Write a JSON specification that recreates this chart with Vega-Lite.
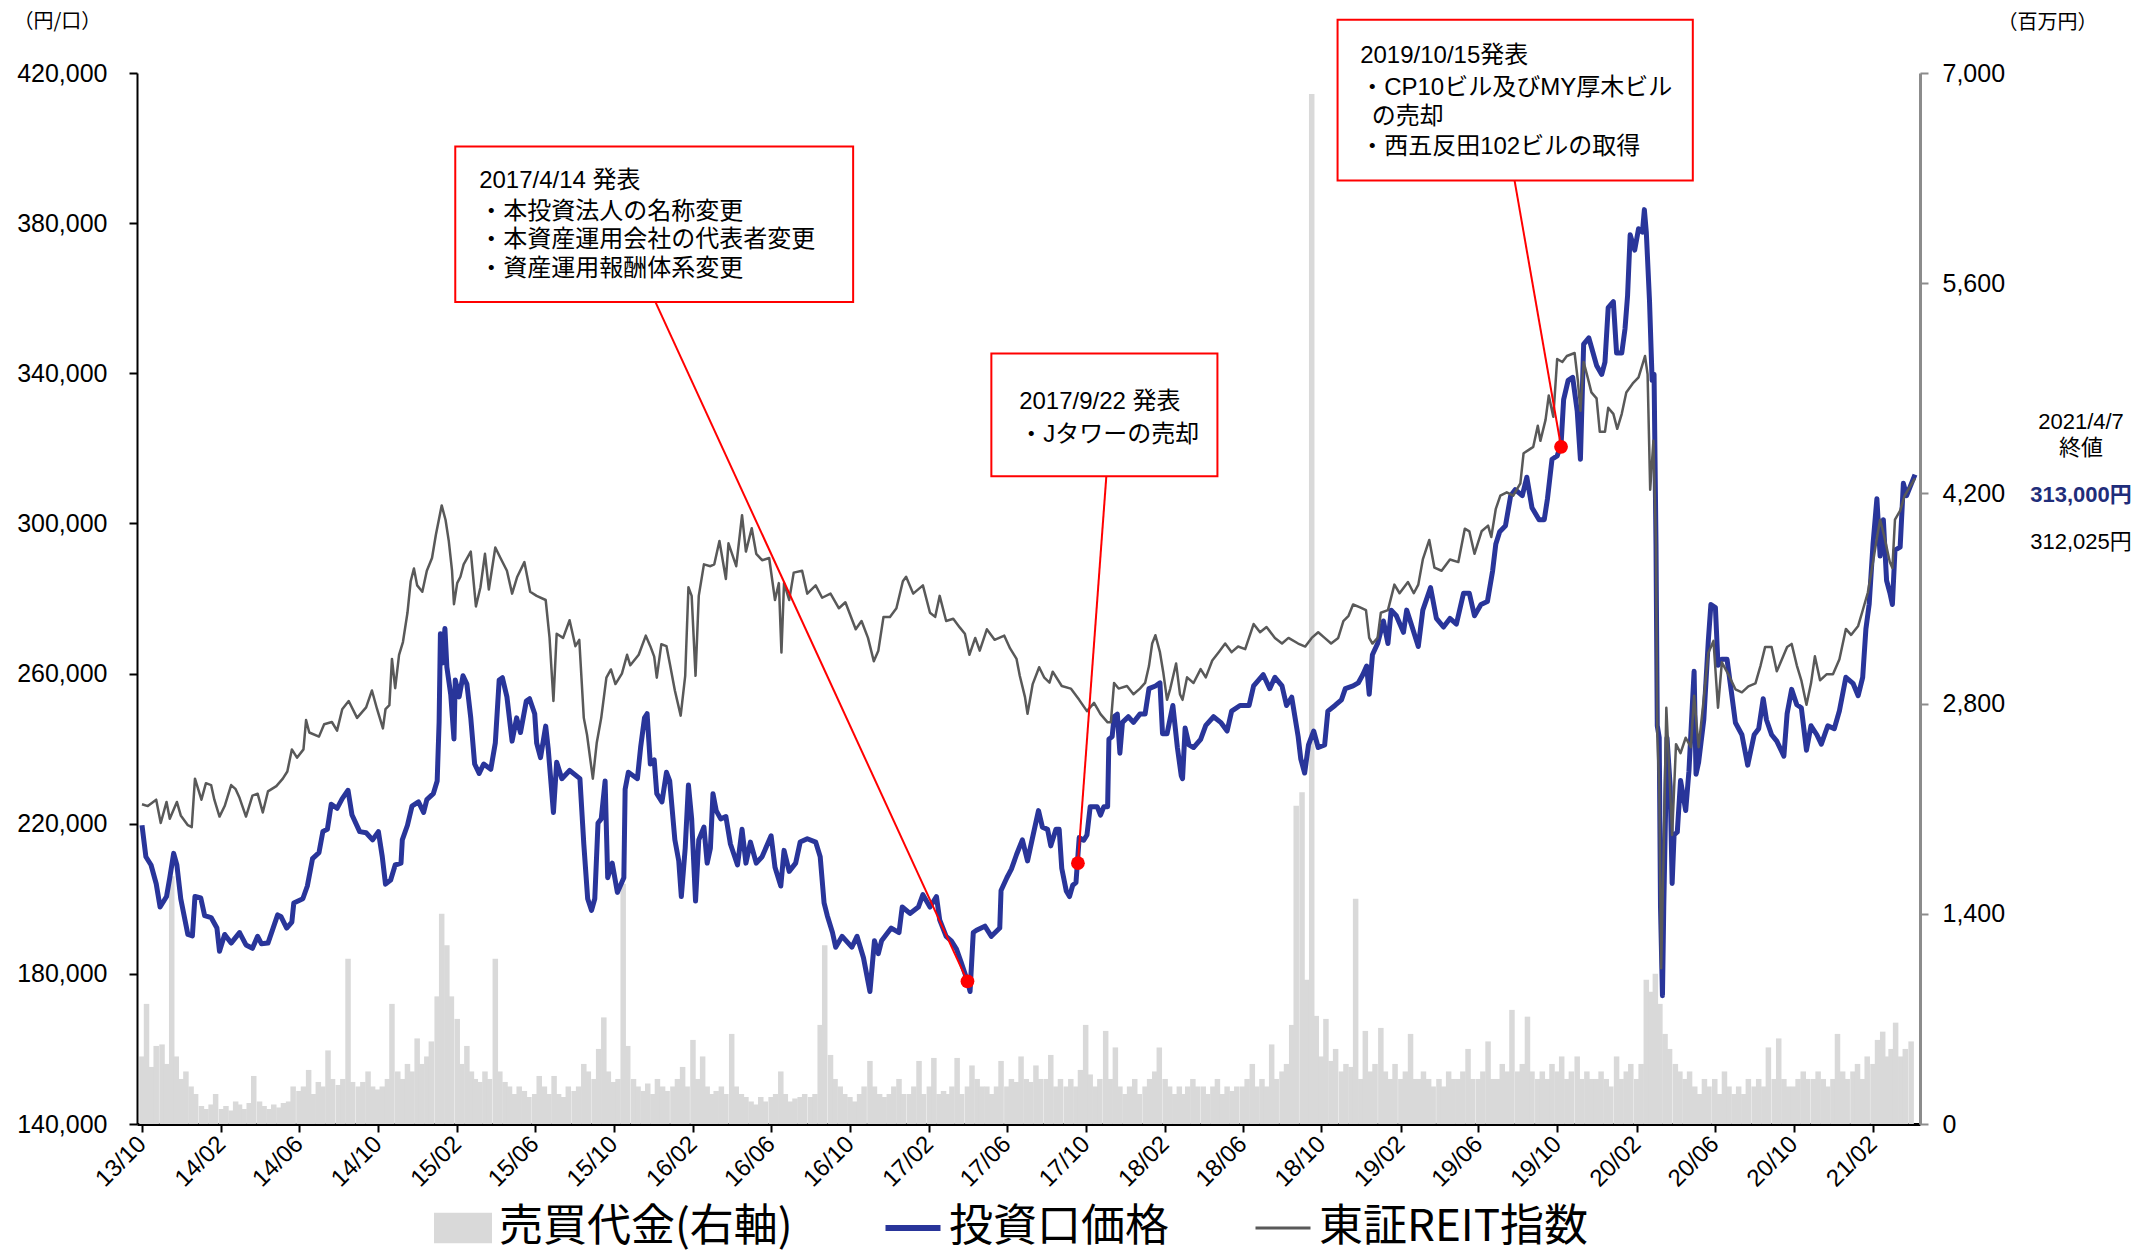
{
"$schema":"https://vega.github.io/schema/vega-lite/v6.json",
"width":1783,"height":1051,
"autosize":{"type":"none"},
"padding":{"left":137,"top":73,"right":227,"bottom":136},
"background":"white",
"config":{"view":{"stroke":null},"font":"Liberation Sans"},
"datasets":{
"trading_value":[
{"date":"2013-10-01","vol":450},{"date":"2013-10-08","vol":800},{"date":"2013-10-16","vol":380},{"date":"2013-10-23","vol":520},
{"date":"2013-11-01","vol":530},{"date":"2013-11-08","vol":400},{"date":"2013-11-16","vol":1650},{"date":"2013-11-23","vol":450},
{"date":"2013-12-01","vol":300},{"date":"2013-12-08","vol":350},{"date":"2013-12-16","vol":250},{"date":"2013-12-23","vol":200},
{"date":"2014-01-01","vol":120},{"date":"2014-01-08","vol":100},{"date":"2014-01-16","vol":130},{"date":"2014-01-23","vol":200},
{"date":"2014-02-01","vol":100},{"date":"2014-02-08","vol":120},{"date":"2014-02-16","vol":90},{"date":"2014-02-23","vol":150},
{"date":"2014-03-01","vol":130},{"date":"2014-03-08","vol":100},{"date":"2014-03-16","vol":140},{"date":"2014-03-23","vol":320},
{"date":"2014-04-01","vol":150},{"date":"2014-04-08","vol":120},{"date":"2014-04-16","vol":100},{"date":"2014-04-23","vol":130},
{"date":"2014-05-01","vol":110},{"date":"2014-05-08","vol":140},{"date":"2014-05-16","vol":150},{"date":"2014-05-23","vol":250},
{"date":"2014-06-01","vol":220},{"date":"2014-06-08","vol":250},{"date":"2014-06-16","vol":360},{"date":"2014-06-23","vol":200},
{"date":"2014-07-01","vol":280},{"date":"2014-07-08","vol":250},{"date":"2014-07-16","vol":490},{"date":"2014-07-23","vol":300},
{"date":"2014-08-01","vol":260},{"date":"2014-08-08","vol":300},{"date":"2014-08-16","vol":1100},{"date":"2014-08-23","vol":280},
{"date":"2014-09-01","vol":250},{"date":"2014-09-08","vol":280},{"date":"2014-09-16","vol":350},{"date":"2014-09-23","vol":250},
{"date":"2014-10-01","vol":230},{"date":"2014-10-08","vol":250},{"date":"2014-10-16","vol":300},{"date":"2014-10-23","vol":800},
{"date":"2014-11-01","vol":350},{"date":"2014-11-08","vol":300},{"date":"2014-11-16","vol":400},{"date":"2014-11-23","vol":350},
{"date":"2014-12-01","vol":570},{"date":"2014-12-08","vol":400},{"date":"2014-12-16","vol":450},{"date":"2014-12-23","vol":550},
{"date":"2015-01-01","vol":850},{"date":"2015-01-08","vol":1400},{"date":"2015-01-16","vol":1190},{"date":"2015-01-23","vol":850},
{"date":"2015-02-01","vol":700},{"date":"2015-02-08","vol":400},{"date":"2015-02-16","vol":520},{"date":"2015-02-23","vol":350},
{"date":"2015-03-01","vol":300},{"date":"2015-03-08","vol":280},{"date":"2015-03-16","vol":350},{"date":"2015-03-23","vol":300},
{"date":"2015-04-01","vol":1100},{"date":"2015-04-08","vol":350},{"date":"2015-04-16","vol":280},{"date":"2015-04-23","vol":250},
{"date":"2015-05-01","vol":200},{"date":"2015-05-08","vol":250},{"date":"2015-05-16","vol":220},{"date":"2015-05-23","vol":180},
{"date":"2015-06-01","vol":200},{"date":"2015-06-08","vol":320},{"date":"2015-06-16","vol":250},{"date":"2015-06-23","vol":200},
{"date":"2015-07-01","vol":320},{"date":"2015-07-08","vol":200},{"date":"2015-07-16","vol":180},{"date":"2015-07-23","vol":250},
{"date":"2015-08-01","vol":220},{"date":"2015-08-08","vol":250},{"date":"2015-08-16","vol":400},{"date":"2015-08-23","vol":350},
{"date":"2015-09-01","vol":300},{"date":"2015-09-08","vol":500},{"date":"2015-09-16","vol":710},{"date":"2015-09-23","vol":350},
{"date":"2015-10-01","vol":280},{"date":"2015-10-08","vol":300},{"date":"2015-10-16","vol":1600},{"date":"2015-10-23","vol":520},
{"date":"2015-11-01","vol":300},{"date":"2015-11-08","vol":250},{"date":"2015-11-16","vol":220},{"date":"2015-11-23","vol":270},
{"date":"2015-12-01","vol":200},{"date":"2015-12-08","vol":300},{"date":"2015-12-16","vol":250},{"date":"2015-12-23","vol":220},
{"date":"2016-01-01","vol":250},{"date":"2016-01-08","vol":300},{"date":"2016-01-16","vol":380},{"date":"2016-01-23","vol":250},
{"date":"2016-02-01","vol":560},{"date":"2016-02-08","vol":300},{"date":"2016-02-16","vol":450},{"date":"2016-02-23","vol":250},
{"date":"2016-03-01","vol":200},{"date":"2016-03-08","vol":220},{"date":"2016-03-16","vol":250},{"date":"2016-03-23","vol":200},
{"date":"2016-04-01","vol":600},{"date":"2016-04-08","vol":250},{"date":"2016-04-16","vol":200},{"date":"2016-04-23","vol":180},
{"date":"2016-05-01","vol":150},{"date":"2016-05-08","vol":130},{"date":"2016-05-16","vol":180},{"date":"2016-05-23","vol":150},
{"date":"2016-06-01","vol":180},{"date":"2016-06-08","vol":200},{"date":"2016-06-16","vol":350},{"date":"2016-06-23","vol":200},
{"date":"2016-07-01","vol":150},{"date":"2016-07-08","vol":170},{"date":"2016-07-16","vol":180},{"date":"2016-07-23","vol":200},
{"date":"2016-08-01","vol":180},{"date":"2016-08-08","vol":200},{"date":"2016-08-16","vol":660},{"date":"2016-08-23","vol":1190},
{"date":"2016-09-01","vol":460},{"date":"2016-09-08","vol":300},{"date":"2016-09-16","vol":250},{"date":"2016-09-23","vol":200},
{"date":"2016-10-01","vol":180},{"date":"2016-10-08","vol":150},{"date":"2016-10-16","vol":200},{"date":"2016-10-23","vol":250},
{"date":"2016-11-01","vol":420},{"date":"2016-11-08","vol":250},{"date":"2016-11-16","vol":200},{"date":"2016-11-23","vol":180},
{"date":"2016-12-01","vol":200},{"date":"2016-12-08","vol":250},{"date":"2016-12-16","vol":300},{"date":"2016-12-23","vol":200},
{"date":"2017-01-01","vol":200},{"date":"2017-01-08","vol":250},{"date":"2017-01-16","vol":420},{"date":"2017-01-23","vol":200},
{"date":"2017-02-01","vol":250},{"date":"2017-02-08","vol":440},{"date":"2017-02-16","vol":200},{"date":"2017-02-23","vol":220},
{"date":"2017-03-01","vol":200},{"date":"2017-03-08","vol":250},{"date":"2017-03-16","vol":440},{"date":"2017-03-23","vol":200},
{"date":"2017-04-01","vol":250},{"date":"2017-04-08","vol":390},{"date":"2017-04-16","vol":300},{"date":"2017-04-23","vol":250},
{"date":"2017-05-01","vol":250},{"date":"2017-05-08","vol":200},{"date":"2017-05-16","vol":250},{"date":"2017-05-23","vol":420},
{"date":"2017-06-01","vol":250},{"date":"2017-06-08","vol":300},{"date":"2017-06-16","vol":280},{"date":"2017-06-23","vol":450},
{"date":"2017-07-01","vol":300},{"date":"2017-07-08","vol":280},{"date":"2017-07-16","vol":390},{"date":"2017-07-23","vol":300},
{"date":"2017-08-01","vol":300},{"date":"2017-08-08","vol":460},{"date":"2017-08-16","vol":250},{"date":"2017-08-23","vol":300},
{"date":"2017-09-01","vol":250},{"date":"2017-09-08","vol":300},{"date":"2017-09-16","vol":250},{"date":"2017-09-23","vol":360},
{"date":"2017-10-01","vol":660},{"date":"2017-10-08","vol":330},{"date":"2017-10-16","vol":250},{"date":"2017-10-23","vol":300},
{"date":"2017-11-01","vol":620},{"date":"2017-11-08","vol":300},{"date":"2017-11-16","vol":510},{"date":"2017-11-23","vol":250},
{"date":"2017-12-01","vol":200},{"date":"2017-12-08","vol":250},{"date":"2017-12-16","vol":300},{"date":"2017-12-23","vol":200},
{"date":"2018-01-01","vol":250},{"date":"2018-01-08","vol":300},{"date":"2018-01-16","vol":350},{"date":"2018-01-23","vol":510},
{"date":"2018-02-01","vol":300},{"date":"2018-02-08","vol":250},{"date":"2018-02-16","vol":200},{"date":"2018-02-23","vol":250},
{"date":"2018-03-01","vol":200},{"date":"2018-03-08","vol":250},{"date":"2018-03-16","vol":300},{"date":"2018-03-23","vol":250},
{"date":"2018-04-01","vol":250},{"date":"2018-04-08","vol":200},{"date":"2018-04-16","vol":250},{"date":"2018-04-23","vol":300},
{"date":"2018-05-01","vol":200},{"date":"2018-05-08","vol":250},{"date":"2018-05-16","vol":220},{"date":"2018-05-23","vol":250},
{"date":"2018-06-01","vol":250},{"date":"2018-06-08","vol":300},{"date":"2018-06-16","vol":400},{"date":"2018-06-23","vol":250},
{"date":"2018-07-01","vol":300},{"date":"2018-07-08","vol":250},{"date":"2018-07-16","vol":530},{"date":"2018-07-23","vol":300},
{"date":"2018-08-01","vol":350},{"date":"2018-08-08","vol":400},{"date":"2018-08-16","vol":660},{"date":"2018-08-23","vol":2120},
{"date":"2018-09-01","vol":2210},{"date":"2018-09-08","vol":960},{"date":"2018-09-16","vol":6860},{"date":"2018-09-23","vol":720},
{"date":"2018-10-01","vol":450},{"date":"2018-10-08","vol":700},{"date":"2018-10-16","vol":420},{"date":"2018-10-23","vol":500},
{"date":"2018-11-01","vol":350},{"date":"2018-11-08","vol":400},{"date":"2018-11-16","vol":380},{"date":"2018-11-23","vol":1500},
{"date":"2018-12-01","vol":300},{"date":"2018-12-08","vol":620},{"date":"2018-12-16","vol":350},{"date":"2018-12-23","vol":400},
{"date":"2019-01-01","vol":640},{"date":"2019-01-08","vol":350},{"date":"2019-01-16","vol":300},{"date":"2019-01-23","vol":400},
{"date":"2019-02-01","vol":300},{"date":"2019-02-08","vol":350},{"date":"2019-02-16","vol":600},{"date":"2019-02-23","vol":300},
{"date":"2019-03-01","vol":300},{"date":"2019-03-08","vol":350},{"date":"2019-03-16","vol":300},{"date":"2019-03-23","vol":250},
{"date":"2019-04-01","vol":300},{"date":"2019-04-08","vol":250},{"date":"2019-04-16","vol":350},{"date":"2019-04-23","vol":300},
{"date":"2019-05-01","vol":300},{"date":"2019-05-08","vol":350},{"date":"2019-05-16","vol":500},{"date":"2019-05-23","vol":300},
{"date":"2019-06-01","vol":300},{"date":"2019-06-08","vol":350},{"date":"2019-06-16","vol":550},{"date":"2019-06-23","vol":300},
{"date":"2019-07-01","vol":300},{"date":"2019-07-08","vol":400},{"date":"2019-07-16","vol":350},{"date":"2019-07-23","vol":760},
{"date":"2019-08-01","vol":350},{"date":"2019-08-08","vol":400},{"date":"2019-08-16","vol":715},{"date":"2019-08-23","vol":350},
{"date":"2019-09-01","vol":300},{"date":"2019-09-08","vol":350},{"date":"2019-09-16","vol":300},{"date":"2019-09-23","vol":400},
{"date":"2019-10-01","vol":350},{"date":"2019-10-08","vol":450},{"date":"2019-10-16","vol":300},{"date":"2019-10-23","vol":350},
{"date":"2019-11-01","vol":450},{"date":"2019-11-08","vol":300},{"date":"2019-11-16","vol":350},{"date":"2019-11-23","vol":300},
{"date":"2019-12-01","vol":300},{"date":"2019-12-08","vol":350},{"date":"2019-12-16","vol":300},{"date":"2019-12-23","vol":250},
{"date":"2020-01-01","vol":450},{"date":"2020-01-08","vol":300},{"date":"2020-01-16","vol":350},{"date":"2020-01-23","vol":400},
{"date":"2020-02-01","vol":300},{"date":"2020-02-08","vol":400},{"date":"2020-02-16","vol":960},{"date":"2020-02-23","vol":880},
{"date":"2020-03-01","vol":1000},{"date":"2020-03-08","vol":800},{"date":"2020-03-16","vol":600},{"date":"2020-03-23","vol":500},
{"date":"2020-04-01","vol":400},{"date":"2020-04-08","vol":350},{"date":"2020-04-16","vol":300},{"date":"2020-04-23","vol":350},
{"date":"2020-05-01","vol":250},{"date":"2020-05-08","vol":200},{"date":"2020-05-16","vol":300},{"date":"2020-05-23","vol":250},
{"date":"2020-06-01","vol":300},{"date":"2020-06-08","vol":200},{"date":"2020-06-16","vol":350},{"date":"2020-06-23","vol":250},
{"date":"2020-07-01","vol":200},{"date":"2020-07-08","vol":250},{"date":"2020-07-16","vol":200},{"date":"2020-07-23","vol":300},
{"date":"2020-08-01","vol":250},{"date":"2020-08-08","vol":300},{"date":"2020-08-16","vol":250},{"date":"2020-08-23","vol":510},
{"date":"2020-09-01","vol":300},{"date":"2020-09-08","vol":570},{"date":"2020-09-16","vol":300},{"date":"2020-09-23","vol":250},
{"date":"2020-10-01","vol":250},{"date":"2020-10-08","vol":300},{"date":"2020-10-16","vol":350},{"date":"2020-10-23","vol":300},
{"date":"2020-11-01","vol":300},{"date":"2020-11-08","vol":350},{"date":"2020-11-16","vol":300},{"date":"2020-11-23","vol":250},
{"date":"2020-12-01","vol":300},{"date":"2020-12-08","vol":600},{"date":"2020-12-16","vol":350},{"date":"2020-12-23","vol":300},
{"date":"2021-01-01","vol":350},{"date":"2021-01-08","vol":400},{"date":"2021-01-16","vol":300},{"date":"2021-01-23","vol":450},
{"date":"2021-02-01","vol":400},{"date":"2021-02-08","vol":560},{"date":"2021-02-16","vol":615},{"date":"2021-02-23","vol":450},
{"date":"2021-03-01","vol":500},{"date":"2021-03-08","vol":675},{"date":"2021-03-16","vol":450},{"date":"2021-03-23","vol":500},
{"date":"2021-04-01","vol":550}
],
"unit_price":[
{"date":"2013-10-01","price":219600},{"date":"2013-10-07","price":211200},{"date":"2013-10-15","price":209000},{"date":"2013-10-23","price":204000},{"date":"2013-10-29","price":197800},
{"date":"2013-11-08","price":200600},{"date":"2013-11-13","price":205600},{"date":"2013-11-19","price":212100},{"date":"2013-11-24","price":209000},{"date":"2013-11-30","price":200000},
{"date":"2013-12-11","price":190500},{"date":"2013-12-18","price":190100},{"date":"2013-12-22","price":200600},{"date":"2013-12-31","price":200200},
{"date":"2014-01-06","price":195500},{"date":"2014-01-16","price":195000},{"date":"2014-01-25","price":192200},{"date":"2014-01-29","price":186000},
{"date":"2014-02-06","price":190500},{"date":"2014-02-16","price":188200},{"date":"2014-03-01","price":191000},{"date":"2014-03-11","price":187700},{"date":"2014-03-21","price":186800},{"date":"2014-03-29","price":190000},
{"date":"2014-04-04","price":188000},{"date":"2014-04-14","price":188200},{"date":"2014-04-22","price":192200},{"date":"2014-04-29","price":195700},
{"date":"2014-05-04","price":195300},{"date":"2014-05-13","price":192200},{"date":"2014-05-21","price":193800},{"date":"2014-05-24","price":198900},
{"date":"2014-06-07","price":200000},{"date":"2014-06-14","price":203400},{"date":"2014-06-22","price":210700},
{"date":"2014-07-02","price":212300},{"date":"2014-07-08","price":217900},{"date":"2014-07-15","price":218500},{"date":"2014-07-21","price":225200},{"date":"2014-07-30","price":224100},
{"date":"2014-08-07","price":226700},{"date":"2014-08-16","price":228900},{"date":"2014-08-22","price":222400},
{"date":"2014-09-03","price":217900},{"date":"2014-09-13","price":217600},{"date":"2014-09-23","price":215700},
{"date":"2014-10-02","price":217900},{"date":"2014-10-08","price":211200},{"date":"2014-10-13","price":203900},{"date":"2014-10-21","price":205000},{"date":"2014-10-28","price":209000},
{"date":"2014-11-06","price":209500},{"date":"2014-11-08","price":215700},{"date":"2014-11-16","price":219600},{"date":"2014-11-23","price":224700},
{"date":"2014-12-03","price":225800},{"date":"2014-12-11","price":223000},{"date":"2014-12-16","price":226400},{"date":"2014-12-26","price":228000},
{"date":"2015-01-01","price":231400},{"date":"2015-01-04","price":247100},{"date":"2015-01-06","price":270600},{"date":"2015-01-09","price":262800},{"date":"2015-01-13","price":272000},{"date":"2015-01-16","price":261700},{"date":"2015-01-22","price":254400},{"date":"2015-01-27","price":242600},{"date":"2015-01-29","price":258300},
{"date":"2015-02-04","price":253800},{"date":"2015-02-10","price":259400},{"date":"2015-02-16","price":257200},{"date":"2015-02-22","price":248200},{"date":"2015-02-28","price":235900},
{"date":"2015-03-07","price":233400},{"date":"2015-03-14","price":235900},{"date":"2015-03-25","price":234500},
{"date":"2015-04-01","price":241500},{"date":"2015-04-07","price":258300},{"date":"2015-04-12","price":258900},{"date":"2015-04-19","price":253800},{"date":"2015-04-27","price":242000},
{"date":"2015-05-04","price":248200},{"date":"2015-05-10","price":244300},{"date":"2015-05-19","price":252700},{"date":"2015-05-24","price":253300},
{"date":"2015-06-01","price":249300},{"date":"2015-06-04","price":241500},{"date":"2015-06-10","price":237600},{"date":"2015-06-18","price":246000},{"date":"2015-06-22","price":239800},{"date":"2015-06-30","price":223000},
{"date":"2015-07-05","price":236400},{"date":"2015-07-13","price":232000},{"date":"2015-07-25","price":234200},
{"date":"2015-08-10","price":232000},{"date":"2015-08-16","price":214600},{"date":"2015-08-22","price":200000},{"date":"2015-08-28","price":196900},
{"date":"2015-09-02","price":200000},{"date":"2015-09-07","price":220200},{"date":"2015-09-12","price":221300},{"date":"2015-09-18","price":231400},{"date":"2015-09-22","price":205600},{"date":"2015-09-29","price":209500},
{"date":"2015-10-07","price":201700},{"date":"2015-10-17","price":205600},{"date":"2015-10-19","price":229200},{"date":"2015-10-24","price":233700},
{"date":"2015-11-07","price":232000},{"date":"2015-11-12","price":240400},{"date":"2015-11-18","price":248200},{"date":"2015-11-22","price":249300},{"date":"2015-11-27","price":235900},
{"date":"2015-12-03","price":237000},{"date":"2015-12-07","price":228000},{"date":"2015-12-15","price":225800},{"date":"2015-12-22","price":233700},{"date":"2015-12-27","price":231400},
{"date":"2016-01-04","price":215700},{"date":"2016-01-10","price":210100},{"date":"2016-01-14","price":200600},{"date":"2016-01-20","price":213500},{"date":"2016-01-25","price":230300},{"date":"2016-01-30","price":221300},
{"date":"2016-02-05","price":199400},{"date":"2016-02-10","price":215700},{"date":"2016-02-18","price":219100},{"date":"2016-02-23","price":209500},{"date":"2016-02-28","price":213500},
{"date":"2016-03-03","price":228000},{"date":"2016-03-08","price":223500},{"date":"2016-03-15","price":221300},{"date":"2016-03-23","price":221900},{"date":"2016-03-30","price":214600},
{"date":"2016-04-10","price":209000},{"date":"2016-04-17","price":218500},{"date":"2016-04-23","price":209500},{"date":"2016-04-30","price":215100},
{"date":"2016-05-09","price":209500},{"date":"2016-05-18","price":211200},
{"date":"2016-06-01","price":216800},{"date":"2016-06-07","price":208400},{"date":"2016-06-16","price":203400},{"date":"2016-06-21","price":212900},{"date":"2016-06-29","price":207300},
{"date":"2016-07-09","price":209500},{"date":"2016-07-16","price":215100},{"date":"2016-07-27","price":216000},
{"date":"2016-08-09","price":215100},{"date":"2016-08-16","price":211200},{"date":"2016-08-22","price":198900},{"date":"2016-08-27","price":195500},
{"date":"2016-09-04","price":191000},{"date":"2016-09-09","price":187100},{"date":"2016-09-19","price":190000},
{"date":"2016-10-04","price":187100},{"date":"2016-10-12","price":190000},{"date":"2016-10-22","price":184300},
{"date":"2016-11-01","price":175300},{"date":"2016-11-08","price":188800},{"date":"2016-11-14","price":185400},{"date":"2016-11-19","price":188800},
{"date":"2016-12-04","price":192200},{"date":"2016-12-16","price":191000},{"date":"2016-12-21","price":197800},
{"date":"2017-01-02","price":196100},{"date":"2017-01-15","price":197800},{"date":"2017-01-22","price":201100},
{"date":"2017-02-02","price":197800},{"date":"2017-02-12","price":200600},{"date":"2017-02-17","price":194400},{"date":"2017-02-27","price":190000},
{"date":"2017-03-07","price":188800},{"date":"2017-03-15","price":186600},{"date":"2017-03-22","price":183200},
{"date":"2017-04-01","price":178100},{"date":"2017-04-05","price":175300},{"date":"2017-04-10","price":191000},{"date":"2017-04-15","price":191600},{"date":"2017-04-28","price":192700},
{"date":"2017-05-08","price":190000},{"date":"2017-05-21","price":192200},{"date":"2017-05-23","price":202200},
{"date":"2017-06-01","price":205600},{"date":"2017-06-08","price":207900},{"date":"2017-06-16","price":211800},{"date":"2017-06-25","price":215700},
{"date":"2017-07-03","price":210100},{"date":"2017-07-10","price":215700},{"date":"2017-07-20","price":223500},{"date":"2017-07-26","price":219100},
{"date":"2017-08-03","price":218500},{"date":"2017-08-08","price":214100},{"date":"2017-08-16","price":218500},{"date":"2017-08-21","price":218500},{"date":"2017-08-25","price":208100},
{"date":"2017-09-01","price":202100},{"date":"2017-09-06","price":200600},{"date":"2017-09-11","price":203600},{"date":"2017-09-16","price":204300},{"date":"2017-09-21","price":216300},{"date":"2017-09-28","price":215600},
{"date":"2017-10-03","price":217000},{"date":"2017-10-08","price":224500},{"date":"2017-10-19","price":224500},{"date":"2017-10-24","price":222300},{"date":"2017-10-29","price":224500},
{"date":"2017-11-04","price":224500},{"date":"2017-11-06","price":242500},{"date":"2017-11-11","price":243200},{"date":"2017-11-14","price":248500},{"date":"2017-11-19","price":249200},{"date":"2017-11-23","price":238800},{"date":"2017-11-27","price":247000},
{"date":"2017-12-06","price":248500},{"date":"2017-12-14","price":247000},{"date":"2017-12-24","price":249200},
{"date":"2018-01-01","price":249200},{"date":"2018-01-07","price":256000},{"date":"2018-01-17","price":256700},{"date":"2018-01-24","price":257500},{"date":"2018-01-28","price":244000},
{"date":"2018-02-04","price":244000},{"date":"2018-02-13","price":251500},{"date":"2018-02-20","price":240300},{"date":"2018-02-26","price":232800},{"date":"2018-02-28","price":232000},
{"date":"2018-03-04","price":245500},{"date":"2018-03-10","price":241000},{"date":"2018-03-17","price":240300},{"date":"2018-03-28","price":242500},
{"date":"2018-04-05","price":246200},{"date":"2018-04-17","price":248500},{"date":"2018-04-28","price":247000},
{"date":"2018-05-08","price":244700},{"date":"2018-05-15","price":250000},{"date":"2018-05-28","price":251500},
{"date":"2018-06-11","price":251500},{"date":"2018-06-18","price":256700},
{"date":"2018-07-03","price":259700},{"date":"2018-07-13","price":256000},{"date":"2018-07-21","price":259000},
{"date":"2018-08-01","price":256700},{"date":"2018-08-08","price":251500},{"date":"2018-08-16","price":253700},{"date":"2018-08-26","price":243200},{"date":"2018-08-30","price":237300},
{"date":"2018-09-05","price":233500},{"date":"2018-09-11","price":241000},{"date":"2018-09-19","price":244700},{"date":"2018-09-26","price":240300},
{"date":"2018-10-06","price":241000},{"date":"2018-10-11","price":250000},{"date":"2018-10-22","price":251500},
{"date":"2018-11-01","price":253000},{"date":"2018-11-07","price":256000},{"date":"2018-11-19","price":256700},{"date":"2018-11-27","price":257500},
{"date":"2018-12-04","price":259700},{"date":"2018-12-10","price":262000},{"date":"2018-12-14","price":254500},{"date":"2018-12-19","price":265000},{"date":"2018-12-27","price":268000},
{"date":"2019-01-05","price":274000},{"date":"2019-01-12","price":268000},{"date":"2019-01-17","price":276900},{"date":"2019-01-25","price":275400},
{"date":"2019-02-05","price":271000},{"date":"2019-02-10","price":276900},{"date":"2019-02-17","price":273200},{"date":"2019-02-28","price":267200},
{"date":"2019-03-07","price":276900},{"date":"2019-03-19","price":282900},{"date":"2019-03-28","price":274700},
{"date":"2019-04-08","price":272400},{"date":"2019-04-18","price":274700},{"date":"2019-04-28","price":273200},
{"date":"2019-05-09","price":281400},{"date":"2019-05-18","price":281400},{"date":"2019-05-26","price":275400},
{"date":"2019-06-05","price":278400},{"date":"2019-06-15","price":279200},{"date":"2019-06-23","price":287300},{"date":"2019-06-28","price":294500},
{"date":"2019-07-04","price":297800},{"date":"2019-07-13","price":299400},{"date":"2019-07-21","price":307400},{"date":"2019-07-28","price":309000},
{"date":"2019-08-08","price":307400},{"date":"2019-08-15","price":312300},{"date":"2019-08-23","price":304200},
{"date":"2019-09-03","price":301000},{"date":"2019-09-11","price":301000},{"date":"2019-09-16","price":306600},{"date":"2019-09-23","price":317100},
{"date":"2019-10-01","price":318000},{"date":"2019-10-07","price":321000},{"date":"2019-10-11","price":333000},{"date":"2019-10-18","price":338100},{"date":"2019-10-25","price":338900},
{"date":"2019-11-01","price":330000},{"date":"2019-11-06","price":317100},{"date":"2019-11-11","price":347800},{"date":"2019-11-19","price":349400},{"date":"2019-11-23","price":347000},
{"date":"2019-12-01","price":342100},{"date":"2019-12-09","price":339700},{"date":"2019-12-14","price":343000},{"date":"2019-12-19","price":357500},{"date":"2019-12-27","price":359100},
{"date":"2020-01-01","price":345400},{"date":"2020-01-09","price":345400},{"date":"2020-01-14","price":351800},{"date":"2020-01-18","price":360700},{"date":"2020-01-22","price":376900},{"date":"2020-01-29","price":372800},
{"date":"2020-02-04","price":378500},{"date":"2020-02-10","price":377600},{"date":"2020-02-13","price":383600},{"date":"2020-02-16","price":377600},{"date":"2020-02-21","price":359100},{"date":"2020-02-25","price":338100},{"date":"2020-02-28","price":339700},
{"date":"2020-03-02","price":294500},{"date":"2020-03-04","price":246100},{"date":"2020-03-07","price":242900},{"date":"2020-03-09","price":197700},{"date":"2020-03-12","price":174200},{"date":"2020-03-14","price":197700},{"date":"2020-03-19","price":242900},{"date":"2020-03-24","price":229900},{"date":"2020-03-27","price":204100},{"date":"2020-03-30","price":217000},
{"date":"2020-04-04","price":217800},{"date":"2020-04-09","price":231500},{"date":"2020-04-17","price":223500},{"date":"2020-04-22","price":234000},{"date":"2020-04-30","price":260600},
{"date":"2020-05-03","price":233200},{"date":"2020-05-07","price":236400},{"date":"2020-05-15","price":247700},{"date":"2020-05-22","price":268700},{"date":"2020-05-26","price":278400},
{"date":"2020-06-02","price":277600},{"date":"2020-06-06","price":262200},{"date":"2020-06-12","price":263800},{"date":"2020-06-20","price":263800},{"date":"2020-06-25","price":257400},
{"date":"2020-07-03","price":246900},{"date":"2020-07-13","price":243700},{"date":"2020-07-22","price":235600},
{"date":"2020-08-01","price":243700},{"date":"2020-08-08","price":245300},{"date":"2020-08-15","price":253300},{"date":"2020-08-20","price":247700},{"date":"2020-08-28","price":243700},
{"date":"2020-09-05","price":242000},{"date":"2020-09-16","price":238000},{"date":"2020-09-21","price":249300},{"date":"2020-09-28","price":255800},
{"date":"2020-10-06","price":251700},{"date":"2020-10-13","price":250900},{"date":"2020-10-21","price":239600},{"date":"2020-10-28","price":246100},
{"date":"2020-11-06","price":243700},{"date":"2020-11-13","price":241200},{"date":"2020-11-23","price":246100},
{"date":"2020-12-03","price":245300},{"date":"2020-12-11","price":250100},{"date":"2020-12-21","price":259000},
{"date":"2021-01-01","price":257400},{"date":"2021-01-09","price":254100},{"date":"2021-01-16","price":259000},{"date":"2021-01-21","price":271900},{"date":"2021-01-26","price":278400},
{"date":"2021-02-01","price":294500},{"date":"2021-02-07","price":306600},{"date":"2021-02-12","price":291300},{"date":"2021-02-17","price":301000},{"date":"2021-02-22","price":284800},{"date":"2021-02-27","price":281600},
{"date":"2021-03-03","price":278400},{"date":"2021-03-07","price":292900},{"date":"2021-03-15","price":293700},{"date":"2021-03-20","price":310700},{"date":"2021-03-25","price":307400},{"date":"2021-04-07","price":313000}
],
"reit_index":[
{"date":"2013-10-01","reit":225200},{"date":"2013-10-10","reit":224700},{"date":"2013-10-23","reit":226400},{"date":"2013-10-30","reit":220200},
{"date":"2013-11-08","reit":225800},{"date":"2013-11-13","reit":221300},{"date":"2013-11-24","reit":225800},{"date":"2013-11-30","reit":222200},
{"date":"2013-12-11","reit":219600},{"date":"2013-12-17","reit":219100},{"date":"2013-12-22","reit":232000},
{"date":"2014-01-01","reit":226400},{"date":"2014-01-08","reit":230800},{"date":"2014-01-16","reit":230300},{"date":"2014-01-21","reit":226400},{"date":"2014-01-29","reit":221900},
{"date":"2014-02-06","reit":224700},{"date":"2014-02-16","reit":230300},{"date":"2014-02-23","reit":229200},
{"date":"2014-03-01","reit":226900},{"date":"2014-03-11","reit":221900},{"date":"2014-03-21","reit":227500},{"date":"2014-03-29","reit":228000},
{"date":"2014-04-06","reit":223000},{"date":"2014-04-14","reit":228600},{"date":"2014-04-27","reit":230000},
{"date":"2014-05-07","reit":232000},{"date":"2014-05-14","reit":233900},{"date":"2014-05-21","reit":239800},{"date":"2014-05-29","reit":237600},
{"date":"2014-06-08","reit":239800},{"date":"2014-06-12","reit":247600},{"date":"2014-06-17","reit":244300},
{"date":"2014-07-02","reit":243200},{"date":"2014-07-10","reit":246500},{"date":"2014-07-22","reit":247100},{"date":"2014-07-30","reit":244800},
{"date":"2014-08-07","reit":250500},{"date":"2014-08-17","reit":252700},{"date":"2014-08-30","reit":248200},
{"date":"2014-09-13","reit":251000},{"date":"2014-09-22","reit":255500},{"date":"2014-09-30","reit":250500},
{"date":"2014-10-09","reit":245400},{"date":"2014-10-13","reit":250500},{"date":"2014-10-19","reit":251600},{"date":"2014-10-23","reit":263900},{"date":"2014-10-28","reit":256100},
{"date":"2014-11-03","reit":265000},{"date":"2014-11-09","reit":268400},{"date":"2014-11-16","reit":276200},{"date":"2014-11-21","reit":284600},{"date":"2014-11-26","reit":288000},
{"date":"2014-12-01","reit":283500},{"date":"2014-12-09","reit":281800},{"date":"2014-12-16","reit":287400},{"date":"2014-12-24","reit":290800},{"date":"2014-12-30","reit":297000},
{"date":"2015-01-08","reit":304800},{"date":"2015-01-14","reit":300900},{"date":"2015-01-19","reit":295300},{"date":"2015-01-24","reit":287400},{"date":"2015-01-27","reit":278500},
{"date":"2015-02-01","reit":284100},{"date":"2015-02-06","reit":285800},{"date":"2015-02-11","reit":289100},{"date":"2015-02-22","reit":292500},{"date":"2015-02-26","reit":285200},
{"date":"2015-03-02","reit":277900},{"date":"2015-03-09","reit":283000},{"date":"2015-03-16","reit":291900},{"date":"2015-03-22","reit":282400},
{"date":"2015-04-01","reit":293600},{"date":"2015-04-09","reit":290800},{"date":"2015-04-19","reit":287400},{"date":"2015-04-27","reit":281300},
{"date":"2015-05-05","reit":285800},{"date":"2015-05-16","reit":289700},{"date":"2015-05-25","reit":281800},
{"date":"2015-06-04","reit":280700},{"date":"2015-06-18","reit":279600},{"date":"2015-06-24","reit":269500},{"date":"2015-06-30","reit":252700},
{"date":"2015-07-05","reit":270600},{"date":"2015-07-15","reit":269500},{"date":"2015-07-25","reit":274200},
{"date":"2015-08-03","reit":267300},{"date":"2015-08-09","reit":269000},{"date":"2015-08-16","reit":248200},{"date":"2015-08-21","reit":243700},{"date":"2015-08-30","reit":232000},
{"date":"2015-09-05","reit":241500},{"date":"2015-09-12","reit":248200},{"date":"2015-09-20","reit":258900},{"date":"2015-09-27","reit":261100},
{"date":"2015-10-04","reit":257200},{"date":"2015-10-14","reit":260000},{"date":"2015-10-22","reit":265000},{"date":"2015-10-27","reit":262200},
{"date":"2015-11-09","reit":265000},{"date":"2015-11-20","reit":270100},{"date":"2015-11-27","reit":267300},
{"date":"2015-12-03","reit":264500},{"date":"2015-12-07","reit":258900},{"date":"2015-12-14","reit":267800},{"date":"2015-12-22","reit":267300},{"date":"2015-12-27","reit":262800},
{"date":"2016-01-04","reit":255500},{"date":"2016-01-13","reit":248800},{"date":"2016-01-20","reit":259400},{"date":"2016-01-25","reit":283000},{"date":"2016-01-30","reit":280700},
{"date":"2016-02-05","reit":259400},{"date":"2016-02-10","reit":280700},{"date":"2016-02-18","reit":289100},{"date":"2016-02-28","reit":288600},
{"date":"2016-03-05","reit":289100},{"date":"2016-03-13","reit":295300},{"date":"2016-03-23","reit":285200},{"date":"2016-03-27","reit":294700},
{"date":"2016-04-08","reit":288600},{"date":"2016-04-17","reit":302200},{"date":"2016-04-23","reit":292500},
{"date":"2016-05-02","reit":298700},{"date":"2016-05-09","reit":291900},{"date":"2016-05-18","reit":290200},{"date":"2016-05-29","reit":290800},
{"date":"2016-06-07","reit":279600},{"date":"2016-06-13","reit":284100},{"date":"2016-06-17","reit":265600},{"date":"2016-06-21","reit":284100},{"date":"2016-06-29","reit":279600},
{"date":"2016-07-06","reit":286900},{"date":"2016-07-19","reit":287400},{"date":"2016-07-27","reit":281300},
{"date":"2016-08-09","reit":283500},{"date":"2016-08-19","reit":280200},
{"date":"2016-09-01","reit":281300},{"date":"2016-09-14","reit":277400},{"date":"2016-09-24","reit":279000},
{"date":"2016-10-10","reit":271800},{"date":"2016-10-19","reit":274000},{"date":"2016-10-29","reit":269500},
{"date":"2016-11-07","reit":263300},{"date":"2016-11-14","reit":266100},{"date":"2016-11-22","reit":275100},
{"date":"2016-12-02","reit":275100},{"date":"2016-12-12","reit":277400},{"date":"2016-12-22","reit":284600},{"date":"2016-12-27","reit":285800},
{"date":"2017-01-07","reit":281300},{"date":"2017-01-22","reit":283500},
{"date":"2017-02-02","reit":276200},{"date":"2017-02-10","reit":275100},{"date":"2017-02-17","reit":280700},{"date":"2017-02-27","reit":274000},
{"date":"2017-03-10","reit":274600},{"date":"2017-03-20","reit":272300},{"date":"2017-03-28","reit":270600},
{"date":"2017-04-04","reit":265000},{"date":"2017-04-13","reit":269500},{"date":"2017-04-20","reit":266100},
{"date":"2017-05-01","reit":271800},{"date":"2017-05-13","reit":269000},{"date":"2017-05-28","reit":270100},
{"date":"2017-06-06","reit":266700},{"date":"2017-06-16","reit":263900},{"date":"2017-06-21","reit":259400},{"date":"2017-06-29","reit":253800},
{"date":"2017-07-03","reit":249300},{"date":"2017-07-11","reit":257200},{"date":"2017-07-21","reit":261700},{"date":"2017-07-29","reit":258900},
{"date":"2017-08-06","reit":257600},{"date":"2017-08-11","reit":260500},{"date":"2017-08-25","reit":256700},
{"date":"2017-09-08","reit":256000},{"date":"2017-09-21","reit":253000},
{"date":"2017-10-03","reit":250000},{"date":"2017-10-14","reit":252200},{"date":"2017-10-24","reit":249200},
{"date":"2017-11-04","reit":247000},{"date":"2017-11-09","reit":247000},{"date":"2017-11-14","reit":257500},{"date":"2017-11-21","reit":256000},
{"date":"2017-12-04","reit":256700},{"date":"2017-12-14","reit":254500},{"date":"2017-12-24","reit":256000},
{"date":"2018-01-01","reit":257500},{"date":"2018-01-07","reit":262000},{"date":"2018-01-12","reit":268000},{"date":"2018-01-17","reit":270200},{"date":"2018-01-24","reit":265700},{"date":"2018-01-29","reit":260500},
{"date":"2018-02-04","reit":253000},{"date":"2018-02-09","reit":256000},{"date":"2018-02-18","reit":262700},{"date":"2018-02-24","reit":254500},{"date":"2018-02-28","reit":253000},
{"date":"2018-03-07","reit":259000},{"date":"2018-03-17","reit":257500},{"date":"2018-03-28","reit":261200},
{"date":"2018-04-05","reit":259000},{"date":"2018-04-15","reit":263500},{"date":"2018-04-25","reit":265700},
{"date":"2018-05-05","reit":268000},{"date":"2018-05-15","reit":265700},{"date":"2018-05-25","reit":267200},
{"date":"2018-06-05","reit":266500},{"date":"2018-06-18","reit":273200},{"date":"2018-06-28","reit":271000},
{"date":"2018-07-08","reit":272400},{"date":"2018-07-21","reit":269500},
{"date":"2018-08-01","reit":268000},{"date":"2018-08-11","reit":269500},{"date":"2018-08-26","reit":268000},
{"date":"2018-09-06","reit":267200},{"date":"2018-09-16","reit":269500},{"date":"2018-09-26","reit":271000},
{"date":"2018-10-06","reit":269500},{"date":"2018-10-16","reit":268000},{"date":"2018-10-27","reit":269500},
{"date":"2018-11-04","reit":274000},{"date":"2018-11-12","reit":275400},{"date":"2018-11-19","reit":278400},{"date":"2018-11-29","reit":277700},
{"date":"2018-12-09","reit":276900},{"date":"2018-12-14","reit":269500},{"date":"2018-12-19","reit":268000},{"date":"2018-12-27","reit":269500},
{"date":"2019-01-01","reit":276200},{"date":"2019-01-12","reit":276900},{"date":"2019-01-22","reit":283700},{"date":"2019-01-30","reit":281400},
{"date":"2019-02-12","reit":284400},{"date":"2019-02-21","reit":281400},{"date":"2019-02-28","reit":283700},
{"date":"2019-03-07","reit":290400},{"date":"2019-03-17","reit":295600},{"date":"2019-03-25","reit":288200},
{"date":"2019-04-05","reit":287400},{"date":"2019-04-18","reit":290400},
{"date":"2019-05-01","reit":289700},{"date":"2019-05-11","reit":298600},{"date":"2019-05-18","reit":297900},{"date":"2019-05-26","reit":291900},
{"date":"2019-06-06","reit":297900},{"date":"2019-06-16","reit":299400},{"date":"2019-06-21","reit":296400},{"date":"2019-06-28","reit":303900},
{"date":"2019-07-05","reit":307400},{"date":"2019-07-15","reit":308300},{"date":"2019-07-25","reit":307400},
{"date":"2019-08-05","reit":310700},{"date":"2019-08-10","reit":318700},{"date":"2019-08-18","reit":319600},{"date":"2019-08-25","reit":320400},
{"date":"2019-09-01","reit":326000},{"date":"2019-09-05","reit":322000},{"date":"2019-09-13","reit":327600},{"date":"2019-09-18","reit":334100},{"date":"2019-09-25","reit":328400},
{"date":"2019-10-01","reit":343800},{"date":"2019-10-09","reit":343000},{"date":"2019-10-16","reit":344600},{"date":"2019-10-28","reit":345400},
{"date":"2019-11-02","reit":338100},{"date":"2019-11-06","reit":330000},{"date":"2019-11-11","reit":343000},{"date":"2019-11-16","reit":339700},{"date":"2019-11-23","reit":334900},
{"date":"2019-12-01","reit":333300},{"date":"2019-12-06","reit":324400},{"date":"2019-12-14","reit":324400},{"date":"2019-12-19","reit":330800},{"date":"2019-12-27","reit":329200},
{"date":"2020-01-02","reit":325200},{"date":"2020-01-09","reit":329200},{"date":"2020-01-16","reit":334900},{"date":"2020-01-26","reit":337300},
{"date":"2020-02-04","reit":338900},{"date":"2020-02-14","reit":344600},{"date":"2020-02-18","reit":339700},{"date":"2020-02-22","reit":309000},{"date":"2020-02-27","reit":322000},
{"date":"2020-03-02","reit":294500},{"date":"2020-03-04","reit":243700},{"date":"2020-03-07","reit":229900},{"date":"2020-03-10","reit":181500},{"date":"2020-03-14","reit":213800},{"date":"2020-03-18","reit":250900},{"date":"2020-03-22","reit":236400},{"date":"2020-03-27","reit":217000},
{"date":"2020-04-02","reit":241200},{"date":"2020-04-09","reit":238800},{"date":"2020-04-17","reit":242900},{"date":"2020-04-25","reit":240400},{"date":"2020-04-30","reit":254100},
{"date":"2020-05-07","reit":240400},{"date":"2020-05-15","reit":253300},{"date":"2020-05-22","reit":265500},{"date":"2020-05-30","reit":268700},
{"date":"2020-06-06","reit":250900},{"date":"2020-06-12","reit":263000},{"date":"2020-06-22","reit":259800},
{"date":"2020-07-03","reit":255800},{"date":"2020-07-13","reit":255000},{"date":"2020-07-23","reit":256600},
{"date":"2020-08-03","reit":257400},{"date":"2020-08-11","reit":262200},{"date":"2020-08-18","reit":267100},{"date":"2020-08-28","reit":267100},
{"date":"2020-09-05","reit":260600},{"date":"2020-09-13","reit":263800},{"date":"2020-09-21","reit":267100},{"date":"2020-09-28","reit":267900},
{"date":"2020-10-06","reit":262200},{"date":"2020-10-13","reit":258200},{"date":"2020-10-21","reit":251700},{"date":"2020-10-28","reit":257400},
{"date":"2020-11-03","reit":264600},{"date":"2020-11-11","reit":258200},{"date":"2020-11-21","reit":259800},
{"date":"2020-12-01","reit":259800},{"date":"2020-12-11","reit":263800},{"date":"2020-12-21","reit":271900},{"date":"2020-12-29","reit":270300},
{"date":"2021-01-09","reit":272700},{"date":"2021-01-16","reit":276800},{"date":"2021-01-24","reit":281600},
{"date":"2021-02-01","reit":289700},{"date":"2021-02-07","reit":296100},{"date":"2021-02-12","reit":301000},{"date":"2021-02-19","reit":296100},{"date":"2021-02-27","reit":289700},
{"date":"2021-03-03","reit":288100},{"date":"2021-03-07","reit":301000},{"date":"2021-03-15","reit":303400},{"date":"2021-03-22","reit":307400},{"date":"2021-04-07","reit":312025}
],
"boxes":[
{"start":"2015-01-29","end":"2016-10-06","top":400450,"bottom":358970},
{"start":"2017-05-08","end":"2018-04-23","top":345300,"bottom":312540},
{"start":"2018-10-26","end":"2020-04-28","top":434200,"bottom":391390}
],
"leaders":[
{"from_date":"2015-12-05","from_value":358970,"to_date":"2017-04-01","to_value":178000},
{"from_date":"2017-11-02","from_value":312540,"to_date":"2017-09-19","to_value":209500},
{"from_date":"2019-07-27","from_value":391390,"to_date":"2019-10-07","to_value":320420}
],
"markers":[
{"date":"2017-04-01","value":178000},
{"date":"2017-09-19","value":209500},
{"date":"2019-10-07","value":320420}
],
"notes":[
{"date":"2015-03-07","value":391100,"text":"2017/4/14 発表"},
{"date":"2015-03-07","value":383100,"text":"・本投資法人の名称変更"},
{"date":"2015-03-07","value":375600,"text":"・本資産運用会社の代表者変更"},
{"date":"2015-03-07","value":367900,"text":"・資産運用報酬体系変更"},
{"date":"2017-06-20","value":332300,"text":"2017/9/22 発表"},
{"date":"2017-06-20","value":323600,"text":"・Jタワーの売却"},
{"date":"2018-11-30","value":424400,"text":"2019/10/15発表"},
{"date":"2018-11-30","value":415900,"text":"・CP10ビル及びMY厚木ビル"},
{"date":"2018-12-18","value":408200,"text":"の売却"},
{"date":"2018-11-30","value":400200,"text":"・西五反田102ビルの取得"}
],
"closing_labels":[
{"date":"2021-12-20","value":326900,"text":"2021/4/7"},
{"date":"2021-12-20","value":320000,"text":"終値"},
{"date":"2021-12-20","value":295000,"text":"312,025円"}
],
"closing_price":[
{"date":"2021-12-20","value":307500,"text":"313,000円"}
]
},
"layer":[
{
"data":{"name":"trading_value"},
"mark":{"type":"bar","size":5.5},
"encoding":{
"x":{"field":"date","type":"temporal",
"scale":{"domain":[{"year":2013,"month":10,"date":1},{"year":2021,"month":4,"date":7}]},
"axis":{"title":null,"grid":false,"format":"%y/%m","labelAngle":-45,"labelAlign":"right","labelBaseline":"middle","labelFont":"Liberation Sans","labelFontSize":24,"labelColor":"black","labelPadding":8,"labelOverlap":false,"labelFlush":false,"tickSize":8,"tickColor":"black","tickWidth":2,"domainColor":"black","domainWidth":3,
"values":[{"year":2013,"month":10,"date":1},{"year":2014,"month":2,"date":1},{"year":2014,"month":6,"date":1},{"year":2014,"month":10,"date":1},{"year":2015,"month":2,"date":1},{"year":2015,"month":6,"date":1},{"year":2015,"month":10,"date":1},{"year":2016,"month":2,"date":1},{"year":2016,"month":6,"date":1},{"year":2016,"month":10,"date":1},{"year":2017,"month":2,"date":1},{"year":2017,"month":6,"date":1},{"year":2017,"month":10,"date":1},{"year":2018,"month":2,"date":1},{"year":2018,"month":6,"date":1},{"year":2018,"month":10,"date":1},{"year":2019,"month":2,"date":1},{"year":2019,"month":6,"date":1},{"year":2019,"month":10,"date":1},{"year":2020,"month":2,"date":1},{"year":2020,"month":6,"date":1},{"year":2020,"month":10,"date":1},{"year":2021,"month":2,"date":1}]}},
"y":{"field":"vol","type":"quantitative",
"scale":{"domain":[0,7000],"nice":false},
"axis":{"orient":"right","values":[0,1400,2800,4200,5600,7000],"format":",d","grid":false,"labelFont":"Liberation Sans","labelFontSize":25,"labelColor":"black","labelPadding":14,"tickSize":8,"tickColor":"#8c8c8c","tickWidth":2,"domainColor":"#8c8c8c","domainWidth":3,
"title":"（百万円）","titleAngle":0,"titleFont":"Noto Sans CJK JP","titleFontSize":20,"titleFontWeight":"normal","titleColor":"black","titleAlign":"left","titleBaseline":"middle","titleX":77,"titleY":-51}},
"color":{"datum":"売買代金(右軸)","type":"nominal",
"scale":{"domain":["売買代金(右軸)","投資口価格","東証REIT指数"],"range":["#d9d9d9","#29359a","#595959"]},
"legend":{"orient":"none","legendX":304,"legendY":1133,"direction":"horizontal","title":null,
"labelFont":"Noto Sans CJK JP","labelFontSize":44,"labelColor":"black","labelOffset":14,"labelLimit":1000,"columnPadding":80,"symbolSize":3025,
"encode":{"symbols":{"update":{
"shape":{"signal":"datum.value === '売買代金(右軸)' ? 'M-1,-0.5H1V0.5H-1Z' : 'stroke'"},
"fill":{"signal":"datum.value === '売買代金(右軸)' ? '#d9d9d9' : 'transparent'"},
"stroke":{"signal":"datum.value === '投資口価格' ? '#29359a' : (datum.value === '東証REIT指数' ? '#595959' : 'transparent')"},
"strokeWidth":{"signal":"datum.value === '投資口価格' ? 6 : 3"},
"opacity":{"value":1},"fillOpacity":{"value":1},"strokeOpacity":{"value":1}}}}}}
}
},
{
"layer":[
{
"data":{"name":"unit_price"},
"mark":{"type":"line","strokeWidth":5,"strokeJoin":"round"},
"encoding":{
"x":{"field":"date","type":"temporal"},
"y":{"field":"price","type":"quantitative",
"scale":{"domain":[140000,420000],"nice":false,"zero":false},
"axis":{"orient":"left","values":[140000,180000,220000,260000,300000,340000,380000,420000],"format":",d","grid":false,"labelFont":"Liberation Sans","labelFontSize":25,"labelColor":"black","labelPadding":22,"tickSize":8,"tickColor":"black","tickWidth":2,"domainColor":"black","domainWidth":2,
"title":"（円/口）","titleAngle":0,"titleFont":"Noto Sans CJK JP","titleFontSize":20,"titleFontWeight":"normal","titleColor":"black","titleAlign":"left","titleBaseline":"middle","titleX":-124,"titleY":-52}},
"color":{"datum":"投資口価格","type":"nominal","legend":null}
}
},
{
"data":{"name":"reit_index"},
"mark":{"type":"line","strokeWidth":2.5,"strokeJoin":"round"},
"encoding":{
"x":{"field":"date","type":"temporal"},
"y":{"field":"reit","type":"quantitative"},
"color":{"datum":"東証REIT指数","type":"nominal","legend":null}
}
},
{
"data":{"name":"boxes"},
"mark":{"type":"rect","fill":"white","stroke":"#ff0000","strokeWidth":2},
"encoding":{
"x":{"field":"start","type":"temporal"},
"x2":{"field":"end"},
"y":{"field":"top","type":"quantitative"},
"y2":{"field":"bottom"}
}
},
{
"data":{"name":"leaders"},
"mark":{"type":"rule","stroke":"#ff0000","strokeWidth":2},
"encoding":{
"x":{"field":"from_date","type":"temporal"},
"x2":{"field":"to_date"},
"y":{"field":"from_value","type":"quantitative"},
"y2":{"field":"to_value"}
}
},
{
"data":{"name":"markers"},
"mark":{"type":"point","filled":true,"fill":"#ff0000","stroke":null,"size":190,"opacity":1},
"encoding":{
"x":{"field":"date","type":"temporal"},
"y":{"field":"value","type":"quantitative"}
}
},
{
"data":{"name":"notes"},
"mark":{"type":"text","align":"left","baseline":"middle","font":"Liberation Sans, Noto Sans CJK JP","fontSize":24,"color":"black"},
"encoding":{
"x":{"field":"date","type":"temporal"},
"y":{"field":"value","type":"quantitative"},
"text":{"field":"text"}
}
},
{
"data":{"name":"closing_labels"},
"mark":{"type":"text","align":"center","baseline":"middle","font":"Liberation Sans, Noto Sans CJK JP","fontSize":22,"color":"black"},
"encoding":{
"x":{"field":"date","type":"temporal"},
"y":{"field":"value","type":"quantitative"},
"text":{"field":"text"}
}
},
{
"data":{"name":"closing_price"},
"mark":{"type":"text","align":"center","baseline":"middle","font":"Liberation Sans, Noto Sans CJK JP","fontSize":22,"fontWeight":"bold","color":"#1f2d7a"},
"encoding":{
"x":{"field":"date","type":"temporal"},
"y":{"field":"value","type":"quantitative"},
"text":{"field":"text"}
}
}
]
}
],
"resolve":{"scale":{"y":"independent"},"axis":{"y":"independent"}}
}
